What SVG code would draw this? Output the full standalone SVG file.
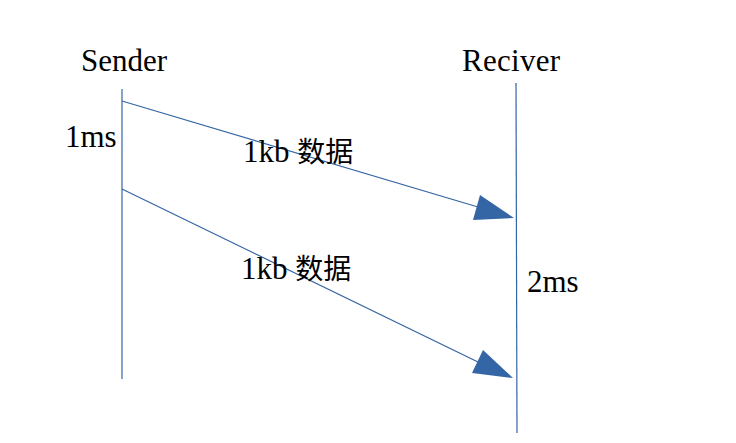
<svg xmlns="http://www.w3.org/2000/svg" width="736" height="443" viewBox="0 0 736 443">
<style>
.ln{stroke:#3465a4;stroke-width:1.2;fill:none}
.hd{fill:#3465a4;stroke:none}
.t{font-family:"Liberation Serif","Noto Sans CJK SC",serif;font-size:31px;fill:#000}
.cj{font-family:"Noto Sans CJK SC",sans-serif;font-size:28px}
</style>
<rect width="736" height="443" fill="#fff"/>
<g id="sender">
<line class="ln" x1="122" y1="89" x2="122" y2="379"/>
<text class="t" x="81" y="71">Sender</text>
<text class="t" x="65" y="147">1ms</text>
</g>
<g id="receiver">
<line class="ln" x1="516" y1="83" x2="517" y2="433"/>
<text class="t" x="462" y="71" textLength="98">Reciver</text>
<text class="t" x="527" y="292">2ms</text>
</g>
<g id="connectors">
<line class="ln" x1="122" y1="101" x2="478" y2="207"/>
<polygon class="hd" points="514,218 473,220 480,195"/>
<line class="ln" x1="122" y1="189" x2="478" y2="362"/>
<polygon class="hd" points="513,378 472,373 483,350"/>
</g>
<g id="labels">
<text class="t" x="243" y="162">1kb <tspan class="cj">数据</tspan></text>
<text class="t" x="241" y="279">1kb <tspan class="cj">数据</tspan></text>
</g>
</svg>
